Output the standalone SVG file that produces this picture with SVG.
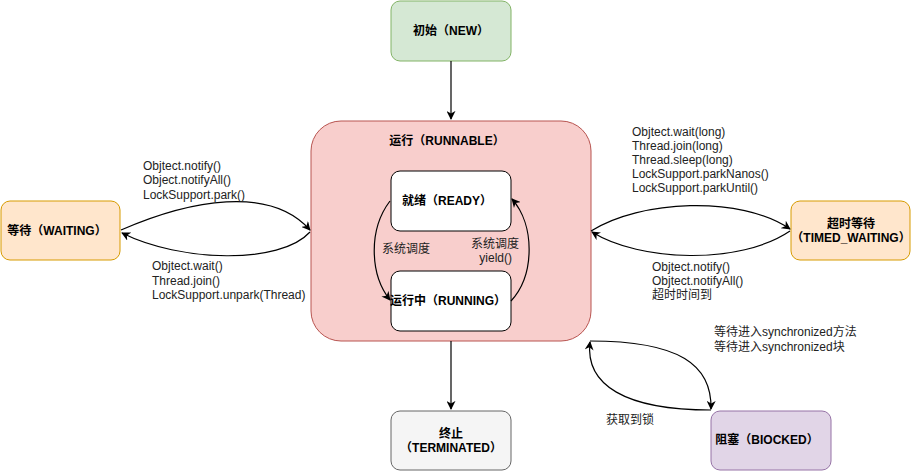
<svg xmlns="http://www.w3.org/2000/svg" width="911" height="471" viewBox="0 0 911 471">
<style>
text{font-family:"Liberation Sans","Noto Sans CJK SC",sans-serif;fill:#000}
.n{font-size:12px;font-weight:bold;text-anchor:middle}
.l{font-size:12px;fill:#222}
.c{fill:none;stroke:#000;stroke-width:1.2}
</style>
<defs>
<marker id="a" viewBox="0 0 10 10" refX="9" refY="5" markerWidth="9" markerHeight="9" markerUnits="userSpaceOnUse" orient="auto">
<path d="M0,0 L10,5 L0,10 L3,5 z" fill="#000"/>
</marker>
</defs>
<rect width="911" height="471" fill="#fff"/>
<g id="new"><rect x="391" y="1" width="120" height="60" rx="9" fill="#d5e8d4" stroke="#82b366"/><text class="n" x="451" y="35">初始（NEW）</text></g>
<g id="runnable"><rect x="311" y="121" width="280" height="220" rx="30" fill="#f8cecc" stroke="#b85450"/><text class="n" x="447" y="145">运行（RUNNABLE）</text></g>
<g id="ready"><rect x="391" y="171" width="120" height="60" rx="9" fill="#fff" stroke="#000"/><text class="n" x="447" y="205">就绪（READY）</text></g>
<g id="running"><rect x="391" y="271" width="120" height="60" rx="9" fill="#fff" stroke="#000"/><text class="n" x="448" y="305">运行中（RUNNING）</text></g>
<g id="waiting"><rect x="1" y="201" width="119" height="59" rx="9" fill="#ffe6cc" stroke="#d79b00"/><text class="n" x="57" y="235">等待（WAITING）</text></g>
<g id="timed"><rect x="791" y="201" width="119" height="59" rx="9" fill="#ffe6cc" stroke="#d79b00"/><text class="n" x="851" y="228">超时等待</text><text class="n" x="851" y="242">（TIMED_WAITING）</text></g>
<g id="terminated"><rect x="391" y="411" width="120" height="59" rx="9" fill="#f5f5f5" stroke="#666"/><text class="n" x="451" y="438">终止</text><text class="n" x="451" y="452">（TERMINATED）</text></g>
<g id="blocked"><rect x="711" y="411" width="120" height="59" rx="9" fill="#e1d5e7" stroke="#9673a6"/><text class="n" x="767" y="444">阻塞（BIOCKED）</text></g>
<g id="connectors">
<path class="c" d="M451,61 L451,119" marker-end="url(#a)"/>
<path class="c" d="M451,341 L451,409" marker-end="url(#a)"/>
<path class="c" d="M390,201 C368,230 370,275 390,300" marker-end="url(#a)"/>
<path class="c" d="M511,301 C535,275 535,225 512,199" marker-end="url(#a)"/>
<path class="c" d="M121,230 C190,200 270,185 310,230" marker-end="url(#a)"/>
<path class="c" d="M310,232 C280,265 180,262 122,233" marker-end="url(#a)"/>
<path class="c" d="M591,231 C640,200 740,195 790,229" marker-end="url(#a)"/>
<path class="c" d="M790,231 C740,265 640,262 592,232" marker-end="url(#a)"/>
<path class="c" d="M590,341 C680,341 712,365 711,409" marker-end="url(#a)"/>
<path class="c" d="M711,410 C625,410 585,385 590,342" marker-end="url(#a)"/>
</g>
<g id="labels">
<text class="l" x="143" y="170">Objtect.notify()</text>
<text class="l" x="143" y="184">Object.notifyAll()</text>
<text class="l" x="143" y="199">LockSupport.park()</text>
<text class="l" x="152" y="270">Objtect.wait()</text>
<text class="l" x="152" y="285">Thread.join()</text>
<text class="l" x="152" y="299">LockSupport.unpark(Thread)</text>
<text class="l" x="632" y="136">Objtect.wait(long)</text>
<text class="l" x="632" y="150">Thread.join(long)</text>
<text class="l" x="632" y="164">Thread.sleep(long)</text>
<text class="l" x="632" y="178">LockSupport.parkNanos()</text>
<text class="l" x="632" y="192">LockSupport.parkUntil()</text>
<text class="l" x="652" y="271">Objtect.notify()</text>
<text class="l" x="652" y="285">Objtect.notifyAll()</text>
<text class="l" x="652" y="299">超时时间到</text>
<text class="l" x="382" y="253">系统调度</text>
<text class="l" x="519" y="248" text-anchor="end">系统调度</text>
<text class="l" x="512" y="262" text-anchor="end">yield()</text>
<text class="l" x="714" y="336">等待进入synchronized方法</text>
<text class="l" x="714" y="351">等待进入synchronized块</text>
<text class="l" x="606" y="424">获取到锁</text>
</g>
</svg>
